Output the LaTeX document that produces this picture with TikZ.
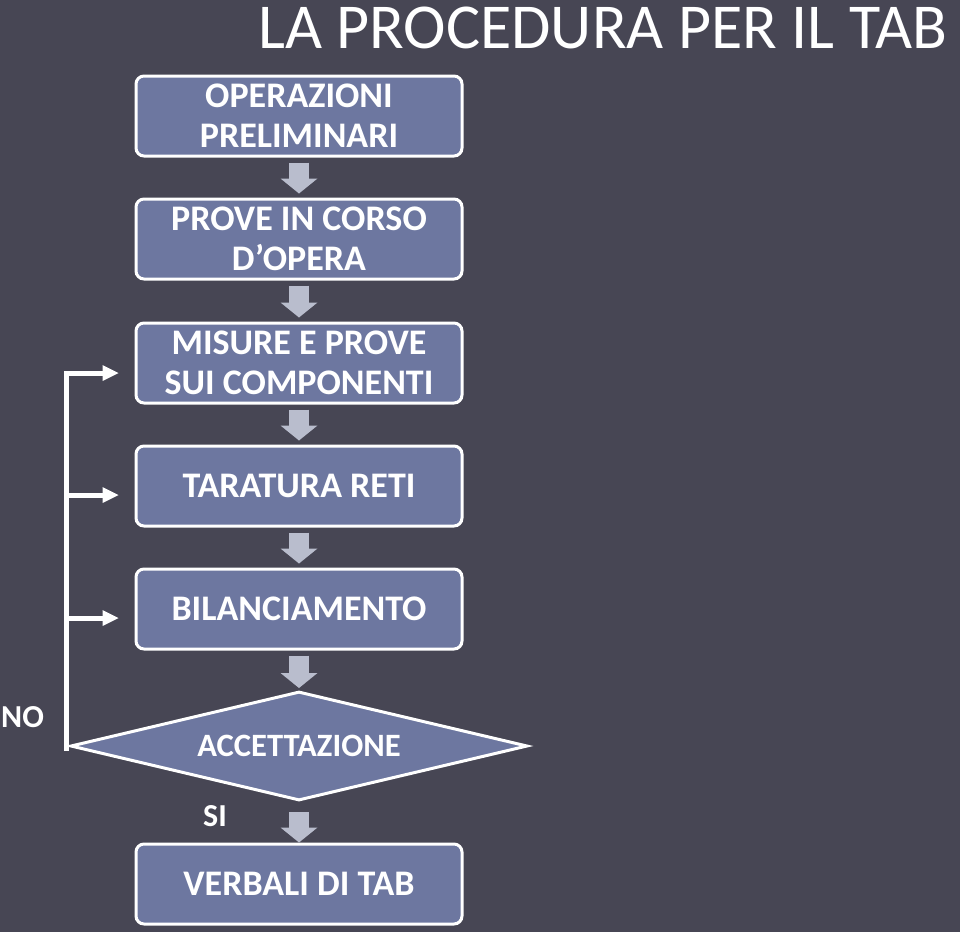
\documentclass[tikz,border=0pt]{standalone}
\usepackage{fontspec}
\setmainfont{Carlito}
\usetikzlibrary{shapes.geometric,arrows.meta}

\definecolor{sfondo}{HTML}{474654}
\definecolor{riempi}{HTML}{6D77A0}
\definecolor{freccia}{HTML}{B9BDCD}

\tikzset{
	fase/.style={shape=rectangle, rounded corners=8pt, draw=white, line width=3pt, fill=riempi, text=white,
		minimum width=326pt, minimum height=80pt, inner sep=0pt, align=center,
		font=\bfseries\fontsize{36}{40}\selectfont},
	scelta/.style={shape=diamond, aspect=4.2, draw=white, line width=3pt, fill=riempi, text=white,
		minimum width=457pt, minimum height=109pt, inner sep=0pt,
		font=\bfseries\fontsize{32.6}{36}\selectfont},
	passo/.style={-{Triangle[width=37pt,length=15pt,line width=0pt]}, line width=20pt, color=freccia,
		shorten <=5pt, shorten >=4pt},
	ritorno/.style={-{Triangle[width=16pt,length=16pt,line width=0pt]}, line width=5pt, color=white},
	etichetta/.style={text=white, inner sep=0pt, font=\bfseries\fontsize{32}{36}\selectfont}
}

\begin{document}
\begin{tikzpicture}[x=1pt, y=-1pt]
	
	\useasboundingbox (0,0) rectangle (960,932);
	\fill[sfondo] (0,0) rectangle (960,932);
	\clip (0,0) rectangle (960,932);
	
	\node[text=white, inner sep=0pt, anchor=base west, text height=41pt, text depth=0pt,
		font=\fontsize{64}{70}\selectfont] (titolo) at (258, 48) {LA PROCEDURA PER IL TAB};
	
	\node[fase] (b1) at (299, 116)  {OPERAZIONI\\PRELIMINARI};
	\node[fase] (b2) at (299, 239)  {PROVE IN CORSO\\D’OPERA};
	\node[fase] (b3) at (299, 363)  {MISURE E PROVE\\SUI COMPONENTI};
	\node[fase] (b4) at (299, 486)  {TARATURA RETI};
	\node[fase] (b5) at (299, 609)  {BILANCIAMENTO};
	\node[scelta] (dia) at (299, 746) {ACCETTAZIONE};
	\node[fase] (b6) at (299, 884)  {VERBALI DI TAB};
	
	\node[etichetta, anchor=west] (no) at (1, 717) {NO};
	\node[etichetta] (si) at (215, 816) {SI};
	
	\path[passo] (b1) edge (b2);
	\path[passo] (b2) edge (b3);
	\path[passo] (b3) edge (b4);
	\path[passo] (b4) edge (b5);
	\path[passo] (b5) edge[shorten >=2pt] (dia);
	\path[passo] (dia) edge[shorten <=10pt, shorten >=0pt] (b6);
	
	% ritorno in caso di esito negativo
	\coordinate (giro) at ([xshift=-3pt, yshift=-5pt]dia.west);
	\coordinate (p3) at ([xshift=-16pt, yshift=-10pt]b3.west);
	\coordinate (p4) at ([xshift=-16pt, yshift=-9pt]b4.west);
	\coordinate (p5) at ([xshift=-16pt, yshift=-9pt]b5.west);
	\draw[ritorno] (giro) |- (p3);
	\draw[ritorno] (giro |- p4) -- (p4);
	\draw[ritorno] (giro |- p5) -- (p5);
	
\end{tikzpicture}
\end{document}
